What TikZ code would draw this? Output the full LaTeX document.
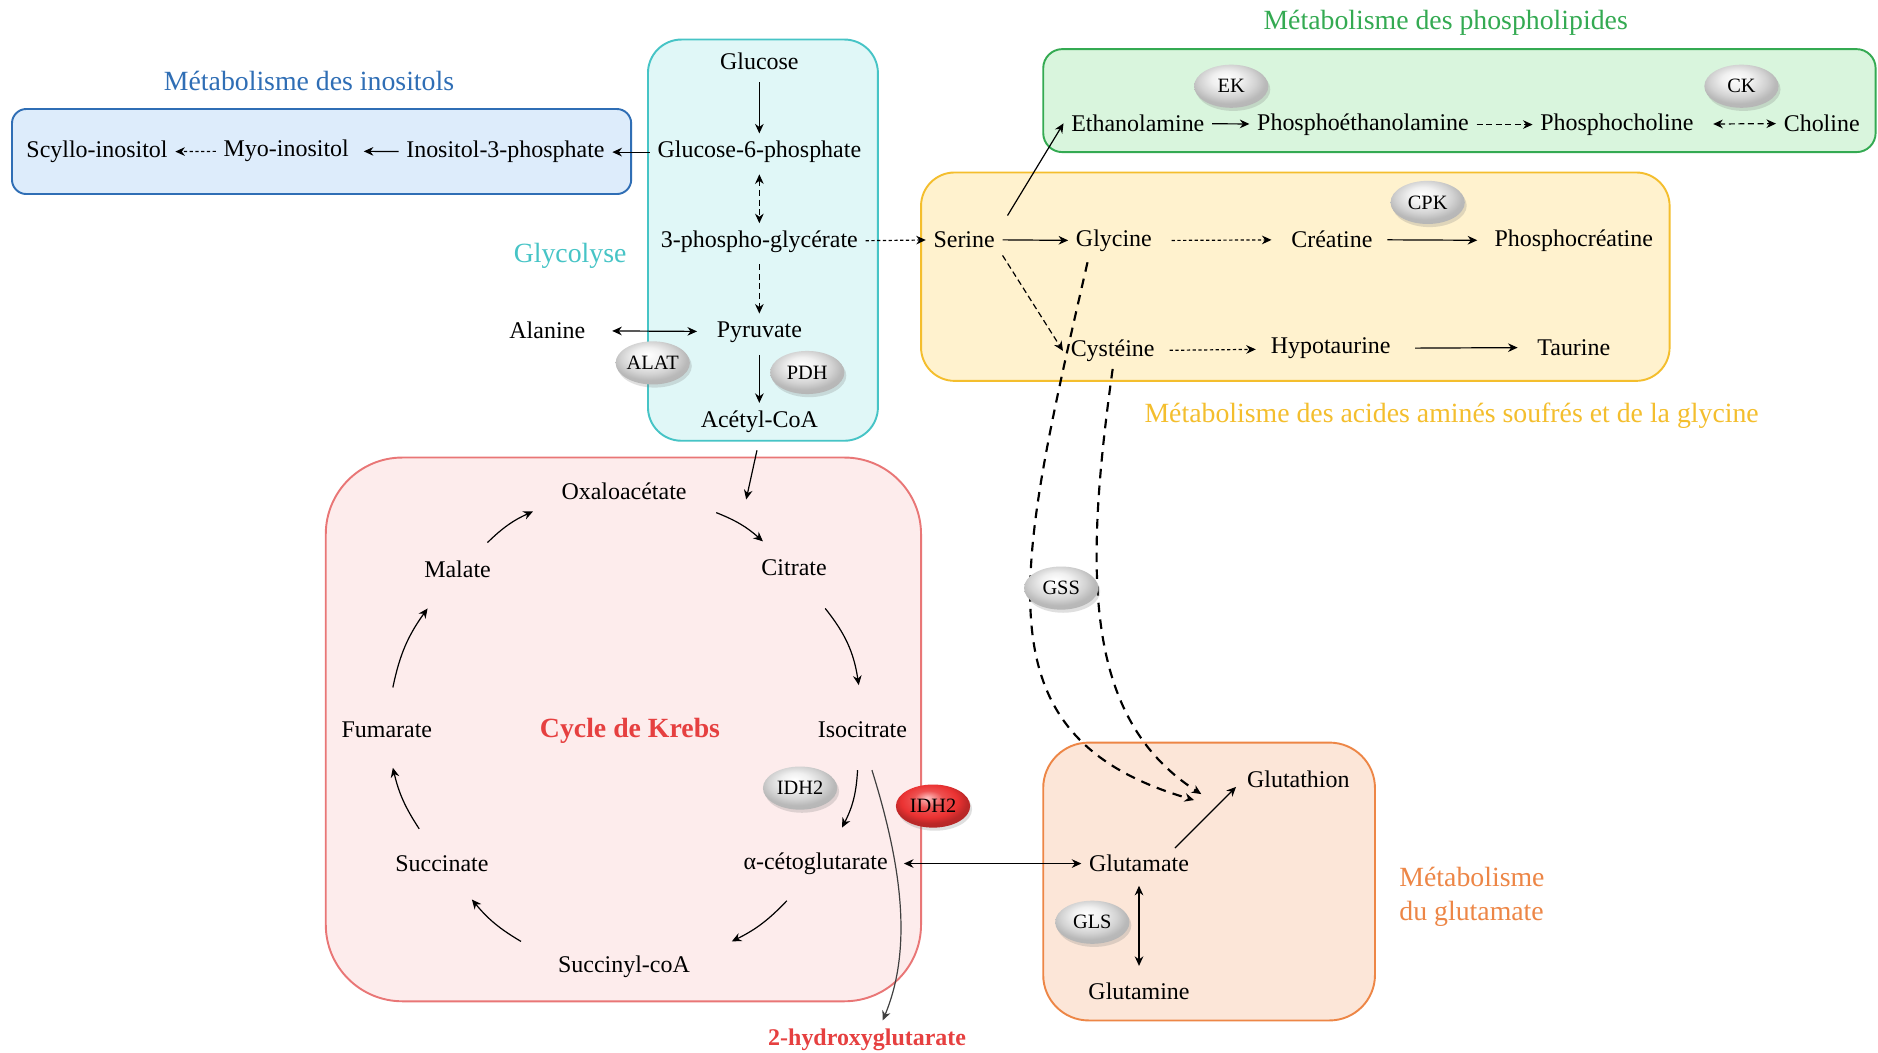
\documentclass[tikz,border=0pt]{standalone}
\usepackage{fontspec}
\setmainfont{Liberation Serif}
\usetikzlibrary{shapes.geometric,shadows,arrows.meta}
\definecolor{inoline}{RGB}{47,110,181}
\definecolor{inofill}{RGB}{221,236,251}
\definecolor{glyline}{RGB}{70,196,198}
\definecolor{glyfill}{RGB}{224,247,247}
\definecolor{phosline}{RGB}{52,170,82}
\definecolor{phosfill}{RGB}{217,245,221}
\definecolor{aaline}{RGB}{244,190,45}
\definecolor{aafill}{RGB}{255,242,206}
\definecolor{krebsline}{RGB}{233,118,118}
\definecolor{krebsfill}{RGB}{253,236,236}
\definecolor{krebsred}{RGB}{230,64,64}
\definecolor{glutline}{RGB}{237,134,70}
\definecolor{glutfill}{RGB}{252,230,216}
\definecolor{enzred}{RGB}{235,50,50}
\pgfdeclareradialshading{enzgray}{\pgfpoint{-4bp}{10bp}}{color(0bp)=(white); color(10bp)=(gray!12); color(19bp)=(gray!35); color(25bp)=(gray!55); color(50bp)=(gray!70)}
\pgfdeclareradialshading{enzredball}{\pgfpoint{-4bp}{10bp}}{color(0bp)=(red!25!white); color(10bp)=(enzred!85!white); color(19bp)=(enzred); color(25bp)=(enzred!80!black); color(50bp)=(enzred!60!black)}

\begin{document}
\begin{tikzpicture}[x=0.5pt,y=-0.5pt,
  >={Stealth[length=4pt,width=3.6pt]},
  every path/.style={line width=0.5pt},
  met/.style={font=\fontsize{10}{12}\selectfont, inner sep=3pt},
  ttl/.style={font=\fontsize{11.6}{14}\selectfont},
  enz/.style={ellipse, shading=enzgray, minimum width=31pt, minimum height=18pt,
    inner sep=0pt, font=\fontsize{8.5}{10}\selectfont,
    drop shadow={shadow xshift=0.8pt, shadow yshift=-1.3pt, opacity=0.25}},
  box/.style={rounded corners=#1, line width=0.8pt},
  dsh/.style={dash pattern=on 2.5pt off 1.5pt},
  dotln/.style={dash pattern=on 1.4pt off 1pt},
  gsdash/.style={line width=0.9pt, dash pattern=on 4pt off 3pt}]
  \fill[white] (0,0) rectangle (1568,879);
  \useasboundingbox (0,0) rectangle (1568,879);

  % compartments
  \draw[box=6pt,draw=inoline,fill=inofill] (10,91) rectangle (527,162);
  \draw[box=14pt,draw=glyline,fill=glyfill] (541,33) rectangle (733,368);
  \draw[box=8pt,draw=phosline,fill=phosfill] (871,41) rectangle (1566,127);
  \draw[box=14pt,draw=aaline,fill=aafill] (769,144) rectangle (1394,318);
  \draw[box=32pt,draw=krebsline,fill=krebsfill] (272,382) rectangle (769,836);
  \draw[box=19pt,draw=glutline,fill=glutfill] (871,620) rectangle (1148,852);

  % titles
  \node[ttl,text=inoline] (tino) at (258,68) {Métabolisme des inositols};
  \node[ttl,text=glyline] (tgly) at (476,214) {Glycolyse};
  \node[ttl,text=phosline] (tphos) at (1207,19) {Métabolisme des phospholipides};
  \node[ttl,text=aaline] (taa) at (1212,347) {Métabolisme des acides aminés soufrés et de la glycine};
  \node[ttl,text=krebsred,font=\fontsize{11.6}{14}\selectfont\bfseries] (tkrebs) at (526,610) {Cycle de Krebs};
  \node[ttl,text=glutline,align=left] (tglut) at (1229,749) {Métabolisme\\du glutamate};

  % glycolyse
  \node[met] (glc) at (634,51) {Glucose};
  \node[met] (g6p) at (634,127) {Glucose-6-phosphate};
  \node[met] (pg3) at (634,202) {3-phospho-glycérate};
  \node[met] (pyr) at (634,277) {Pyruvate};
  \node[met] (acc) at (634,352) {Acétyl-CoA};
  \node[met] (ala) at (457,276) {Alanine};
  % inositols
  \node[met] (i3p) at (422,127) {Inositol-3-phosphate};
  \node[met] (myo) at (239,126) {Myo-inositol};
  \node[met] (scy) at (81,127) {Scyllo-inositol};
  % phospholipides
  \node[met] (eth) at (950,103) {Ethanolamine};
  \node[met] (peth) at (1138,104) {Phosphoéthanolamine};
  \node[met] (pch) at (1350,104) {Phosphocholine};
  \node[met] (cho) at (1521,103) {Choline};
  % acides amines
  \node[met] (ser) at (805,200) {Serine};
  \node[met] (gly) at (930,201) {Glycine};
  \node[met] (cre) at (1112,200) {Créatine};
  \node[met] (pcr) at (1314,201) {Phosphocréatine};
  \node[met] (cys) at (929,293) {Cystéine};
  \node[met] (hyp) at (1111,291) {Hypotaurine};
  \node[met] (tau) at (1314,290) {Taurine};
  % krebs
  \node[met] (oxa) at (521,410) {Oxaloacétate};
  \node[met] (cit) at (663,474) {Citrate};
  \node[met] (iso) at (720,609) {Isocitrate};
  \node[met] (akg) at (681,721) {α-cétoglutarate};
  \node[met] (sco) at (521,807) {Succinyl-coA};
  \node[met] (sca) at (369,721) {Succinate};
  \node[met] (fum) at (323,609) {Fumarate};
  \node[met] (mal) at (382,475) {Malate};
  \node[met,font=\fontsize{10}{12}\selectfont\bfseries,text=krebsred] (hg) at (724,868) {2-hydroxyglutarate};
  % glutamate
  \node[met] (gth) at (1084,651) {Glutathion};
  \node[met] (glu) at (951,721) {Glutamate};
  \node[met] (gln) at (951,828) {Glutamine};

  % arrows
  \draw[->,shorten <=2pt] (glc) -- (g6p);
  \draw[<->,dsh,shorten <=1.5pt] (g6p) -- (pg3);
  \draw[->,dsh,shorten <=1.5pt] (pg3) -- (pyr);
  \draw[->,shorten <=2pt] (pyr) -- (acc);
  \draw[<->,shorten <=8pt,shorten >=5pt] (ala) -- (pyr);
  \draw[->] (g6p) -- (i3p);
  \draw[->,shorten >=3pt] (i3p) -- (myo);
  \draw[->,dotln] (myo) -- (scy);
  \draw[->,dotln] (pg3) -- (ser);
  \draw[->,shorten <=4pt] (ser.north east) -- (eth.west);
  \draw[->] (eth) -- (peth);
  \draw[->,dsh] (peth) -- (pch);
  \draw[<->,dsh,shorten <=5pt] (pch) -- (cho);
  \draw[->] (ser) -- (gly);
  \draw[->,dotln,shorten <=5pt,shorten >=5pt] (gly) -- (cre);
  \draw[->,shorten <=3pt,shorten >=4pt] (cre) -- (pcr);
  \draw[->,dsh] (ser.south east) -- (cys.west);
  \draw[->,dotln,shorten <=3pt,shorten >=3pt] (cys) -- (hyp);
  \draw[->,shorten <=7pt,shorten >=5pt] (hyp) -- (tau);
  \draw[->,gsdash] ([shift={(-22,18)}]gly.center) .. controls +(-60,261) and +(-182,-53) .. ([shift={(46,-53)}]glu.center);
  \draw[->,gsdash] ([shift={(0,15)}]cys.center) .. controls +(-24,172) and +(-98,-63) .. ([shift={(52,-58)}]glu.center);
  \draw[->] ([shift={(-2,24)}]acc.center) -- ([shift={(102,7)}]oxa.center);
  \draw[->] ([shift={(77,18)}]oxa.center) to[bend left=10] ([shift={(-26,-22)}]cit.center);
  \draw[->] ([shift={(26,34)}]cit.center) to[bend left=15] ([shift={(-3,-37)}]iso.center);
  \draw[->] ([shift={(-4,34)}]iso.center) to[bend left=12] ([shift={(22,-30)}]akg.center);
  \draw[->] ([shift={(-24,31)}]akg.center) to[bend left=10] ([shift={(90,-21)}]sco.center);
  \draw[->] ([shift={(-86,-21)}]sco.center) to[bend left=10] ([shift={(25,30)}]sca.center);
  \draw[->] ([shift={(-19,-29)}]sca.center) to[bend left=10] ([shift={(5,32)}]fum.center);
  \draw[->] ([shift={(5,-35)}]fum.center) to[bend left=12] ([shift={(-25,33)}]mal.center);
  \draw[->] ([shift={(25,-22)}]mal.center) to[bend left=10] ([shift={(-76,17)}]oxa.center);
  \draw[->,draw=darkgray] ([shift={(8,34)}]iso.center) .. controls +(25,80) and +(25,-60) .. ([shift={(13,-16)}]hg.center);
  \draw[<->,shorten <=3.5pt] (akg) -- (glu);
  \draw[->] ([shift={(30,-13)}]glu.center) -- ([shift={(-52,6)}]gth.center);
  \draw[<->,shorten <=2.5pt,shorten >=4pt] (glu) -- (gln);

  % enzymes
  \node[enz] (ek) at (1028,72) {EK};
  \node[enz] (ck) at (1454,72) {CK};
  \node[enz] (cpk) at (1192,169) {CPK};
  \node[enz] (alat) at (545,303) {ALAT};
  \node[enz] (pdh) at (674,311) {PDH};
  \node[enz] (gss) at (886,491) {GSS};
  \node[enz] (idh) at (668,658) {IDH2};
  \node[enz,shading=enzredball] (idhm) at (779,673) {IDH2};
  \node[enz] (gls) at (912,770) {GLS};
\end{tikzpicture}
\end{document}
